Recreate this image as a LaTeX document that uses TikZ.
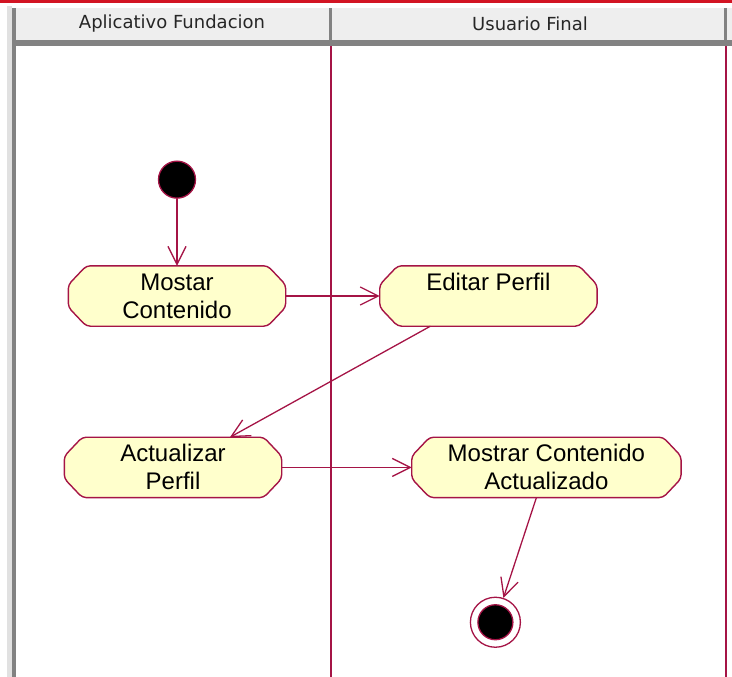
\documentclass[tikz,border=0pt]{standalone}
\usepackage{fontspec}
\setmainfont{Liberation Sans}
\newfontfamily\headfont{DejaVu Sans}
\usetikzlibrary{positioning, arrows.meta}

\definecolor{umlline}{RGB}{165,20,70}
\definecolor{umlfill}{RGB}{255,255,204}
\definecolor{winred}{RGB}{210,20,35}
\definecolor{headgrey}{RGB}{238,238,238}
\definecolor{edgegrey}{RGB}{130,130,130}
\definecolor{stripgrey}{RGB}{225,225,225}

\pgfdeclarelayer{background}
\pgfsetlayers{background,main}

\begin{document}
\begin{tikzpicture}[x=1pt, y=-1pt, node distance=90pt,
    >={Straight Barb[length=18pt, width=18pt]}]
    % Define block styles
    \tikzstyle{activity} = [rectangle, minimum width=217pt, minimum height=60pt, inner sep=0pt, align=center, font=\fontsize{24}{28}\selectfont]
    \tikzstyle{octagon} = [draw=umlline, fill=umlfill, line width=1.4pt, rounded corners=4pt]
    \tikzstyle{lanehead} = [font=\headfont\fontsize{18}{20}\selectfont, text=black!85]
    \tikzstyle{flow} = [->, draw=umlline, line width=1.3pt]
    \tikzstyle{lane} = [draw=umlline, line width=1.6pt]
    \tikzstyle{state} = [circle, draw=umlline, line width=1.3pt]

    \useasboundingbox (0,0) rectangle (732,677);

    % Window frame and lane headers
    \fill[winred] (0,0) rectangle (732,3);
    \fill[stripgrey] (7,6) rectangle (12,677);
    \fill[headgrey] (16,8) rectangle (732,40);
    \fill[edgegrey] (12,8) rectangle (16,677);
    \fill[edgegrey] (12,40) rectangle (732,46);
    \fill[edgegrey] (329,8) rectangle (332,40);
    \fill[edgegrey] (724,8) rectangle (727,40);
    \node[lanehead] (laneA) at (172,24) {Aplicativo Fundacion};
    \node[lanehead] (laneB) at (530,24) {Usuario Final};

    % Lane dividers
    \draw[lane] (331,46) -- (331,677);
    \draw[lane] (726,46) -- (726,677);

    % Place main nodes
    \node [activity] (mostrar) at (177,296) {Mostar\\Contenido};
    \node [activity, right=94pt of mostrar] (editar) {Editar Perfil\\\mbox{}};
    \node [activity, below=111pt of mostrar, xshift=-4pt] (actualizar) {Actualizar\\Perfil};
    \node [activity, right=130pt of actualizar, minimum width=269pt] (mca) {Mostrar Contenido\\Actualizado};

    % Chamfered outlines behind the activities
    \begin{pgfonlayer}{background}
        \foreach \n in {mostrar, editar, actualizar, mca}
            \draw[octagon] ([xshift=18pt]\n.north west) -- ([xshift=-18pt]\n.north east)
                -- ([yshift=-19pt]\n.north east) -- ([yshift=19pt]\n.south east)
                -- ([xshift=-18pt]\n.south east) -- ([xshift=18pt]\n.south west)
                -- ([yshift=19pt]\n.south west) -- ([yshift=-19pt]\n.north west) -- cycle;
    \end{pgfonlayer}

    % Initial and final states
    \node [state, fill=black, minimum size=37pt, above=67pt of mostrar] (start) {};
    \node [state, fill=white, minimum size=50pt, below=99pt of mca, xshift=-51pt] (final) {};
    \node [state, fill=black, minimum size=35pt] (finaldot) at (final) {};

    % Draw connections as arrows
    \draw [flow] (start) -- (mostrar);
    \draw [flow] (mostrar) -- (editar);
    \draw [flow] ([xshift=-58pt]editar.south) -- ([xshift=57pt]actualizar.north);
    \draw [flow] (actualizar) -- (mca);
    \draw [flow] ([xshift=-10pt]mca.south) -- (final);

\end{tikzpicture}
\end{document}
